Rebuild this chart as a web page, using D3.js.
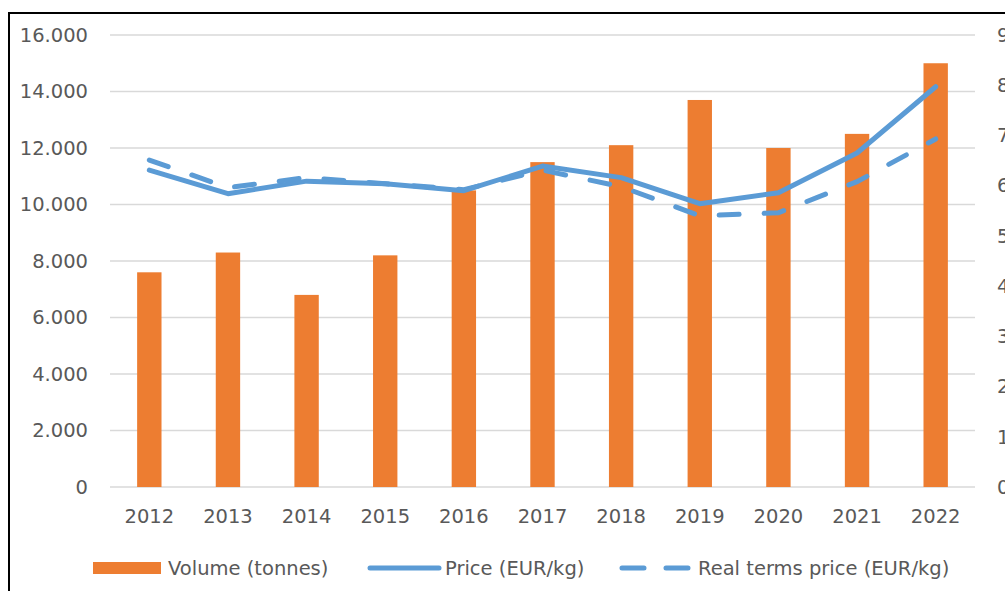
<!DOCTYPE html>
<html>
<head>
<meta charset="utf-8">
<script src="https://cdn.jsdelivr.net/npm/d3@7"></script>
<style>
  body { margin: 0; background: #fff; }
  svg text { font-family: "DejaVu Sans", sans-serif; fill: #595959; }
</style>
</head>
<body>
<div id="chart"></div>
<script>
// data
const years = ["2012", "2013", "2014", "2015", "2016", "2017", "2018", "2019", "2020", "2021", "2022"];
const volume = [7600, 8300, 6800, 8200, 10500, 11500, 12100, 13700, 12000, 12500, 15000];
const price = [6.31, 5.84, 6.09, 6.04, 5.90, 6.39, 6.16, 5.64, 5.86, 6.65, 7.97];
const realPrice = [6.51, 5.96, 6.16, 6.04, 5.92, 6.31, 5.98, 5.40, 5.46, 6.08, 6.93];
const leftTicks = [0, 2000, 4000, 6000, 8000, 10000, 12000, 14000, 16000];
const rightTicks = [0, 1, 2, 3, 4, 5, 6, 7, 8, 9];

const width = 1005, height = 591;
const orange = "#ED7D31", blue = "#5B9BD5";

const svg = d3.select("#chart").append("svg")
    .attr("width", width)
    .attr("height", height);

const x = d3.scaleBand()
    .domain(years)
    .range([110, 975])
    .paddingInner(0.69)
    .paddingOuter(0.345);

const y = d3.scaleLinear().domain([0, 16000]).range([487, 35]);
const y2 = d3.scaleLinear().domain([0, 9]).range([487, 35]);

const fmt = d3.formatLocale({ decimal: ",", thousands: ".", grouping: [3], currency: ["", ""] }).format(",");

// gridlines
svg.append("g")
    .selectAll("line")
    .data(leftTicks)
    .enter().append("line")
    .attr("x1", 110).attr("x2", 975)
    .attr("y1", d => y(d)).attr("y2", d => y(d))
    .attr("stroke", "#D9D9D9")
    .attr("stroke-width", 1.6);

// left axis
const yAxis = svg.append("g")
    .attr("transform", "translate(88,0)")
    .call(d3.axisLeft(y).tickValues(leftTicks).tickFormat(fmt).tickSize(0).tickPadding(0));
yAxis.select(".domain").remove();
yAxis.selectAll("text").attr("font-size", 19.5).attr("font-family", null);

// right axis (cut off at window edge, like the original)
const y2Axis = svg.append("g")
    .attr("transform", "translate(997,0)")
    .call(d3.axisRight(y2).tickValues(rightTicks).tickSize(0).tickPadding(0));
y2Axis.select(".domain").remove();
y2Axis.selectAll("text").attr("font-size", 19.5).attr("font-family", null);

// bars
svg.append("g")
    .selectAll("rect")
    .data(volume)
    .enter().append("rect")
    .attr("x", (d, i) => x(years[i]))
    .attr("width", x.bandwidth())
    .attr("y", d => y(d))
    .attr("height", d => y(0) - y(d))
    .attr("fill", orange);

// x axis
const xAxis = svg.append("g")
    .attr("transform", "translate(0,487)")
    .call(d3.axisBottom(x).tickSize(0).tickPadding(22));
xAxis.select(".domain").remove();
xAxis.selectAll("text").attr("font-size", 19.5).attr("font-family", null);

// lines
const line = d3.line()
    .x((d, i) => x(years[i]) + x.bandwidth() / 2)
    .y(d => y2(d));

svg.append("path")
    .datum(price)
    .attr("d", line)
    .attr("fill", "none")
    .attr("stroke", blue)
    .attr("stroke-width", 5)
    .attr("stroke-linejoin", "round")
    .attr("stroke-linecap", "round");

svg.append("path")
    .datum(realPrice)
    .attr("d", line)
    .attr("fill", "none")
    .attr("stroke", blue)
    .attr("stroke-width", 5)
    .attr("stroke-dasharray", "20 25")
    .attr("stroke-linecap", "round");

// legend
const leg = svg.append("g").attr("transform", "translate(0,568)");
leg.append("rect")
    .attr("x", 93).attr("y", -6).attr("width", 68).attr("height", 12)
    .attr("fill", orange);
leg.append("text").attr("x", 168).attr("dy", "0.35em").attr("font-size", 19.5).text("Volume (tonnes)");

leg.append("line")
    .attr("x1", 370).attr("x2", 439).attr("y1", 0).attr("y2", 0)
    .attr("stroke", blue).attr("stroke-width", 5).attr("stroke-linecap", "round");
leg.append("text").attr("x", 445).attr("dy", "0.35em").attr("font-size", 19.5).text("Price (EUR/kg)");

leg.append("line")
    .attr("x1", 622).attr("x2", 690).attr("y1", 0).attr("y2", 0)
    .attr("stroke", blue).attr("stroke-width", 5).attr("stroke-linecap", "round")
    .attr("stroke-dasharray", "22 22");
leg.append("text").attr("x", 698).attr("dy", "0.35em").attr("font-size", 19.5).text("Real terms price (EUR/kg)");

// frame (top and left edges visible)
svg.append("path")
    .attr("d", "M9,591 V13 H1005")
    .attr("fill", "none")
    .attr("stroke", "#000")
    .attr("stroke-width", 2);
</script>
</body>
</html>
